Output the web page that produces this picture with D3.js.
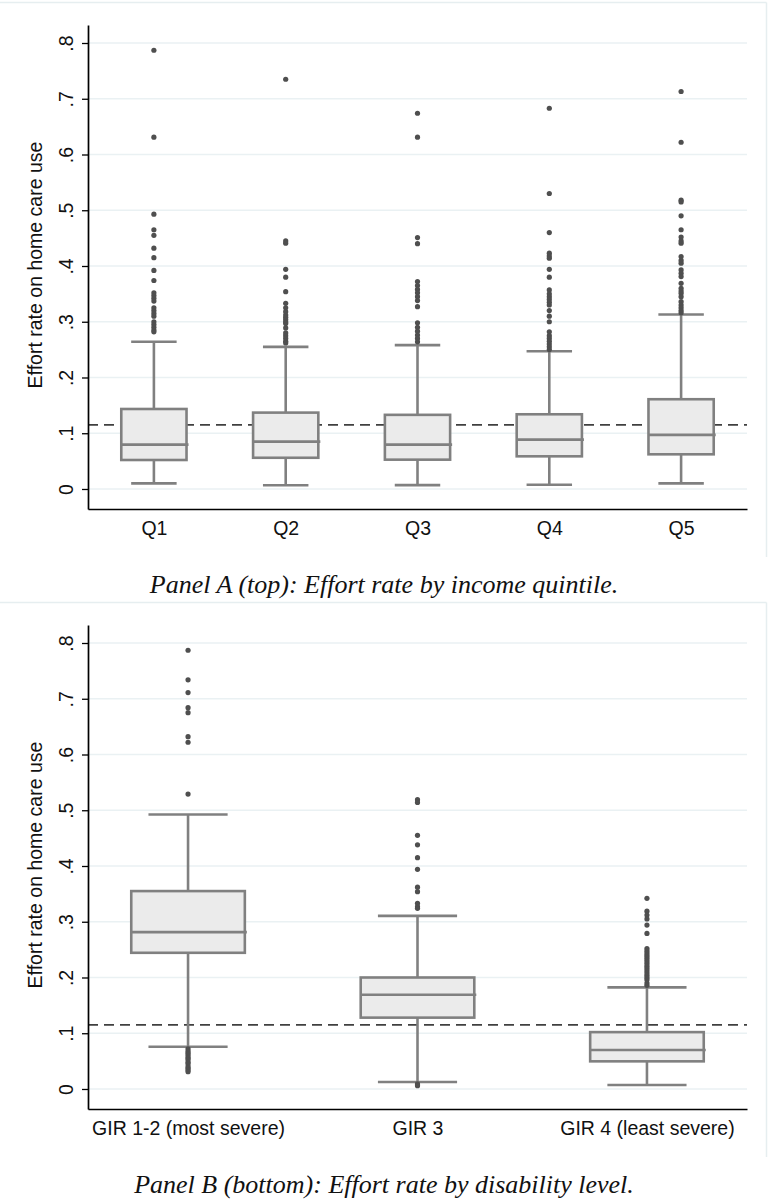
<!DOCTYPE html>
<html><head><meta charset="utf-8">
<script src="https://cdn.jsdelivr.net/npm/d3@7"></script>
<style>body{margin:0;background:#fff} svg{display:block}</style>
</head><body>
<script>
// ---------- data ----------
const yTickValues = [0, 0.1, 0.2, 0.3, 0.4, 0.5, 0.6, 0.7, 0.8];
const yTickLabels = ["0", ".1", ".2", ".3", ".4", ".5", ".6", ".7", ".8"];
const yTitle = "Effort rate on home care use";
const refLineValue = 0.115;

const quintiles = ["Q1", "Q2", "Q3", "Q4", "Q5"];
const quintileLowerWhisker = [0.010, 0.0066, 0.007, 0.0077, 0.010];
const quintileQ1 = [0.052, 0.056, 0.0526, 0.0586, 0.0622];
const quintileMedian = [0.0795, 0.085, 0.0795, 0.0885, 0.097];
const quintileQ3 = [0.1435, 0.137, 0.133, 0.134, 0.161];
const quintileUpperWhisker = [0.264, 0.255, 0.258, 0.247, 0.313];
const quintileOutliers = [
  [0.787,0.631,0.493,0.465,0.455,0.432,0.415,0.392,0.374,0.352,0.347,0.342,0.337,0.325,0.320,0.315,0.310,0.300,0.295,0.290,0.285,0.282],
  [0.735,0.445,0.441,0.394,0.380,0.354,0.333,0.325,0.318,0.312,0.308,0.304,0.300,0.297,0.289,0.280,0.275,0.270,0.265,0.262],
  [0.674,0.631,0.451,0.440,0.372,0.365,0.358,0.352,0.345,0.338,0.327,0.298,0.290,0.283,0.276,0.270,0.264],
  [0.683,0.530,0.460,0.423,0.418,0.414,0.394,0.380,0.357,0.350,0.345,0.340,0.335,0.330,0.320,0.310,0.300,0.282,0.275,0.270,0.265,0.260,0.255,0.250],
  [0.713,0.622,0.518,0.515,0.490,0.465,0.452,0.445,0.441,0.417,0.410,0.405,0.393,0.387,0.381,0.369,0.360,0.355,0.351,0.345,0.336,0.330,0.325,0.320,0.316]
];
const captionA = "Panel A (top): Effort rate by income quintile.";

const girLevels = ["GIR 1-2 (most severe)", "GIR 3", "GIR 4 (least severe)"];
const girLowerWhisker = [0.0758, 0.0125, 0.0072];
const girQ1 = [0.2443, 0.128, 0.0496];
const girMedian = [0.2814, 0.169, 0.070];
const girQ3 = [0.355, 0.200, 0.102];
const girUpperWhisker = [0.4923, 0.3106, 0.1823];
const girOutliers = [
  [0.787,0.734,0.711,0.684,0.675,0.632,0.622,0.529,0.072,0.068,0.065,0.062,0.058,0.055,0.052,0.048,0.045,0.040,0.037,0.034,0.031],
  [0.519,0.514,0.455,0.438,0.415,0.394,0.362,0.354,0.333,0.327,0.324,0.009,0.006],
  [0.342,0.319,0.312,0.305,0.294,0.279,0.252,0.248,0.244,0.240,0.236,0.232,0.228,0.224,0.220,0.216,0.212,0.208,0.204,0.200,0.196,0.190,0.186]
];
const captionB = "Panel B (bottom): Effort rate by disability level.";

// ---------- drawing ----------
const W = 768, H = 1202;
const svg = d3.select("body").append("svg").attr("width", W).attr("height", H);

const boxStroke = "#808080", boxFill = "#ebebeb", dotColor = "#4f4f4f";
const gridColor = "#eaf1f3", frameColor = "#e6eef0";
const axisFont = "'Liberation Sans', Arial, sans-serif";

function drawPanel(off, cats, lw, q1, med, q3, uw, outl, pad, caption) {
  const g = svg.append("g").attr("transform", `translate(0,${off})`);
  // frame (top + right)
  g.append("line").attr("x1", 0).attr("x2", 766.5).attr("y1", 2.5).attr("y2", 2.5)
    .attr("stroke", frameColor).attr("stroke-width", 1.5);
  g.append("line").attr("x1", 766.5).attr("x2", 766.5).attr("y1", 2.5).attr("y2", 557)
    .attr("stroke", frameColor).attr("stroke-width", 1.5);

  const y = d3.scaleLinear().domain([-0.0359, 0.8323]).range([509, 25]);
  const x = d3.scalePoint().domain(cats).range([88, 747]).padding(pad);
  const step = x.step();
  const bw = step * 0.495, cw = step * 0.345;

  // gridlines
  g.append("g").selectAll("line").data(yTickValues).join("line")
    .attr("x1", 88).attr("x2", 747)
    .attr("y1", d => y(d)).attr("y2", d => y(d))
    .attr("stroke", gridColor).attr("stroke-width", 1.3);

  // reference dashed line
  g.append("line").attr("x1", 88).attr("x2", 747)
    .attr("y1", y(refLineValue)).attr("y2", y(refLineValue))
    .attr("stroke", "#404040").attr("stroke-width", 1.7).attr("stroke-dasharray", "10,6");

  const data = cats.map((c, i) => ({c, lw: lw[i], q1: q1[i], med: med[i], q3: q3[i], uw: uw[i], out: outl[i]}));
  const bg = g.append("g").selectAll("g").data(data).join("g");
  // whisker stems
  bg.append("line").attr("x1", d => x(d.c)).attr("x2", d => x(d.c))
    .attr("y1", d => y(d.lw)).attr("y2", d => y(d.uw))
    .attr("stroke", boxStroke).attr("stroke-width", 2.6);
  // caps
  bg.append("line").attr("x1", d => x(d.c) - cw / 2).attr("x2", d => x(d.c) + cw / 2)
    .attr("y1", d => y(d.uw)).attr("y2", d => y(d.uw))
    .attr("stroke", boxStroke).attr("stroke-width", 2.6);
  bg.append("line").attr("x1", d => x(d.c) - cw / 2).attr("x2", d => x(d.c) + cw / 2)
    .attr("y1", d => y(d.lw)).attr("y2", d => y(d.lw))
    .attr("stroke", boxStroke).attr("stroke-width", 2.6);
  // box
  bg.append("rect").attr("x", d => x(d.c) - bw / 2).attr("width", bw)
    .attr("y", d => y(d.q3)).attr("height", d => y(d.q1) - y(d.q3))
    .attr("fill", boxFill).attr("stroke", boxStroke).attr("stroke-width", 2.6);
  // median
  bg.append("line").attr("x1", d => x(d.c) - bw / 2).attr("x2", d => x(d.c) + bw / 2 + 2)
    .attr("y1", d => y(d.med)).attr("y2", d => y(d.med))
    .attr("stroke", boxStroke).attr("stroke-width", 2.6);
  // outliers
  bg.each(function (d) {
    d3.select(this).selectAll("circle").data(d.out).join("circle")
      .attr("cx", x(d.c)).attr("cy", v => y(v)).attr("r", 2.6).attr("fill", dotColor);
  });

  // y axis
  const ya = g.append("g").attr("transform", "translate(88,0)")
    .call(d3.axisLeft(y).tickValues(yTickValues).tickSize(6).tickSizeOuter(0)
      .tickFormat((d, i) => yTickLabels[i]));
  ya.select(".domain").attr("stroke", "#000").attr("stroke-width", 1.7);
  ya.selectAll(".tick line").attr("stroke", "#000").attr("stroke-width", 1.3);
  ya.selectAll(".tick text").attr("x", null).attr("dy", null)
    .attr("text-anchor", "middle").attr("transform", "translate(-15,0) rotate(-90)")
    .attr("font-family", axisFont).attr("font-size", 19.5).attr("fill", "#111");

  // x axis
  const xa = g.append("g").attr("transform", "translate(0,509)")
    .call(d3.axisBottom(x).tickSize(0).tickSizeOuter(0).tickPadding(12));
  xa.select(".domain").attr("stroke", "#000").attr("stroke-width", 1.7);
  xa.selectAll(".tick text").attr("font-family", axisFont).attr("font-size", 19.5).attr("fill", "#111");

  // y title
  g.append("text").attr("transform", `translate(42,${(25 + 509) / 2 - 2}) rotate(-90)`)
    .attr("text-anchor", "middle").attr("font-family", axisFont).attr("font-size", 19.5)
    .attr("fill", "#111").text(yTitle);

  // caption
  g.append("text").attr("x", 384).attr("y", 593).attr("text-anchor", "middle")
    .attr("font-family", "'Liberation Serif', 'Times New Roman', serif")
    .attr("font-style", "italic").attr("font-size", 26).attr("fill", "#111").text(caption);
}

drawPanel(0, quintiles, quintileLowerWhisker, quintileQ1, quintileMedian, quintileQ3,
  quintileUpperWhisker, quintileOutliers, 0.5, captionA);
drawPanel(600, girLevels, girLowerWhisker, girQ1, girMedian, girQ3,
  girUpperWhisker, girOutliers, 0.436, captionB);
</script>
</body></html>
